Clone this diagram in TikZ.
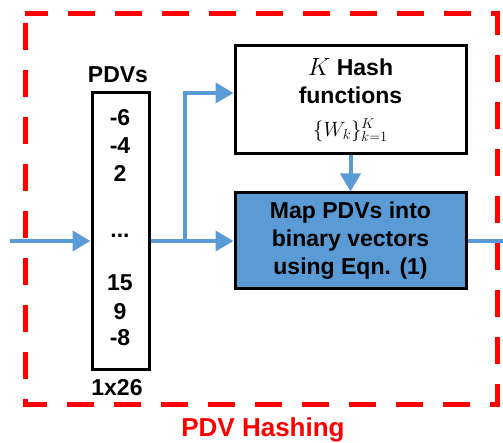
\documentclass[tikz,border=0pt]{standalone}
\usepackage{fontspec}
\setmainfont{Liberation Sans}
\usetikzlibrary{arrows.meta}
\definecolor{flow}{RGB}{91,155,213}
\definecolor{mapfill}{RGB}{91,155,213}
\definecolor{redline}{RGB}{255,0,0}
\begin{document}
\begin{tikzpicture}[x=1pt,y=1pt,
  txt/.style={font=\bfseries\fontsize{23}{28}\selectfont, inner sep=0pt},
  box/.style={draw=black, line width=3pt, inner sep=0pt},
  arr/.style={draw=flow, line width=4pt, -{Triangle[length=18pt,width=20pt]}},
  conn/.style={draw=flow, line width=4pt},
  frame/.style={draw=redline, line width=5pt, dash pattern=on 27pt off 20pt, dash phase=38pt}]
\useasboundingbox (0,0) rectangle (503,-443);
% red dashed frame
\draw[frame] (25,-14) rectangle (497,-404);
\node[txt, text=redline, font=\bfseries\fontsize{26}{30}\selectfont] (title) at (263,-430) {PDV Hashing};
% vector
\node[box, minimum width=57pt, minimum height=276pt] (vec) at (120.5,-231) {};
\node[txt] (pdvs) at (118,-75) {PDVs};
\node[txt] (dim) at (117,-388) {1x26};
\node[txt] (n1) at (120,-118) {-6};
\node[txt] (n2) at (120,-146) {-4};
\node[txt] (n3) at (120,-173) {2};
\node[txt, anchor=base] (n4) at (120,-238) {...};
\node[txt] (n5) at (120,-283) {15};
\node[txt] (n6) at (120,-312) {9};
\node[txt] (n7) at (120,-338) {-8};
% boxes
\node[box, fill=white, minimum width=231pt, minimum height=108pt, align=center, txt] (hash) at (350.5,-100)
  {$K$ Hash\\functions\\[5pt]{\fontsize{22}{24}\selectfont$\{W_k\}_{k=1}^{K}$}};
\node[box, fill=mapfill, minimum width=231pt, minimum height=96pt, align=center, txt] (map) at (350.5,-241)
  {Map PDVs into\\binary vectors\\using Eqn. (1)};
% connectors
\coordinate (in) at (10,-241);
\coordinate (br) at (185,-241);
\coordinate (out) at (503,-241);
\draw[arr] (in) -- (in -| vec.west);
\draw[arr] (in -| vec.east) -- (map.west);
\draw[arr] (br) |- ([yshift=7pt]hash.west);
\draw[arr] (hash.south) -- (map.north);
\draw[conn] (map.east) -- (out);
\end{tikzpicture}
\end{document}
